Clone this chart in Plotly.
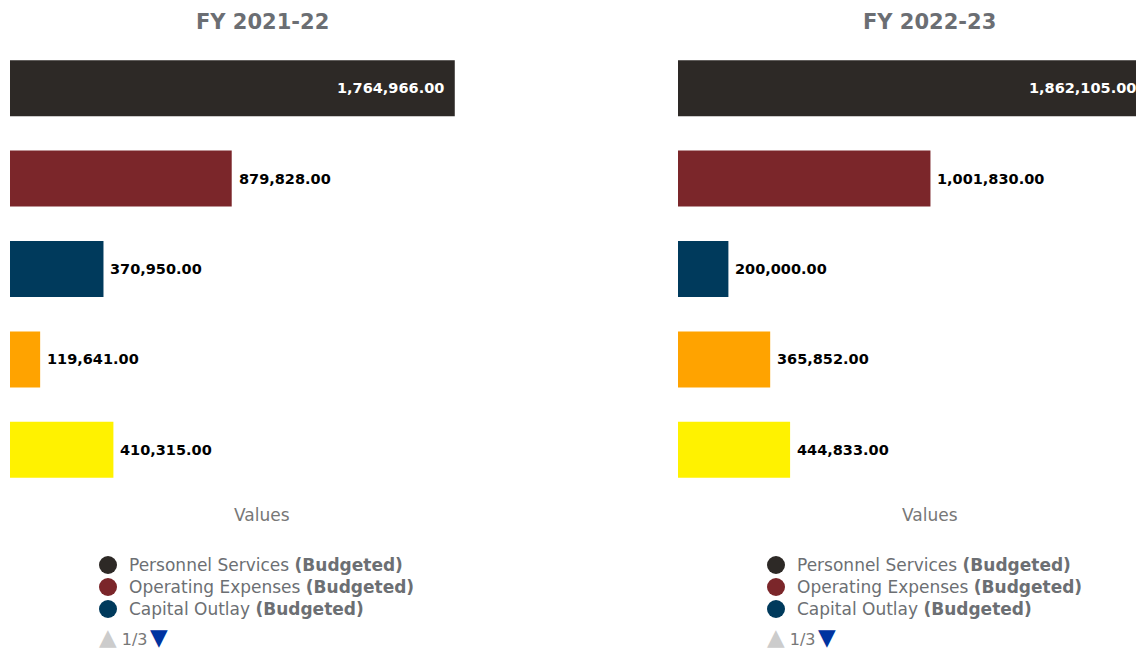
import plotly.graph_objects as go

# Budget categories and values per fiscal year
categories = ["Personnel Services", "Operating Expenses", "Capital Outlay",
              "Debt Service", "Transfers Out"]
fy_2021_22 = [1764966, 879828, 370950, 119641, 410315]
fy_2022_23 = [1862105, 1001830, 200000, 365852, 444833]
panel_titles = ["FY 2021-22", "FY 2022-23"]
colors = ["#2d2926", "#7b262a", "#003a5c", "#ffa300", "#fff200"]
legend_count = 3  # entries shown on the first legend page

FONT = "DejaVu Sans"
W, H = 1200, 650

def px_x(p):
    return p / W

def px_y(p):
    return 1 - p / H

x_domains = [[px_x(10), px_x(514)], [px_x(678), px_x(1182)]]
y_domain = [px_y(495), px_y(43)]
legend_left = [108, 776]     # centre of the legend circles, px
legend_rows = [565, 587, 609]

fig = go.Figure()
annotations = []
shapes = []

for i, (values, title) in enumerate(zip([fy_2021_22, fy_2022_23], panel_titles)):
    xa = "x" if i == 0 else "x2"
    ya = "y" if i == 0 else "y2"
    for cat, val, col in zip(categories, values, colors):
        fig.add_trace(go.Bar(
            x=[val], y=[cat], orientation="h", width=0.62, name=cat,
            marker=dict(color=col, line=dict(width=0)),
            xaxis=xa, yaxis=ya, showlegend=False, hoverinfo="x+y",
        ))
    # value labels
    vmax = max(values)
    for cat, val in zip(categories, values):
        inside = val == vmax
        annotations.append(dict(
            x=val, y=cat, xref=xa, yref=ya, showarrow=False,
            text=f"{val:,.2f}",
            xanchor="right" if inside else "left",
            xshift=-9 if inside else 5,
            font=dict(family=FONT, size=14.5, weight="bold",
                      color="#ffffff" if inside else "#000000"),
        ))
    cx = (x_domains[i][0] + x_domains[i][1]) / 2
    annotations.append(dict(
        x=cx, y=px_y(22), xref="paper", yref="paper", showarrow=False,
        text=f"<b>{title}</b>", xanchor="center", yanchor="middle",
        font=dict(family=FONT, size=21, color="#6b6e73"),
    ))
    annotations.append(dict(
        x=cx, y=px_y(515), xref="paper", yref="paper", showarrow=False,
        text="Values", xanchor="center", yanchor="middle",
        font=dict(family=FONT, size=17, color="#777777"),
    ))
    # legend: first page of entries
    lx = legend_left[i]
    for cat, col, ry in zip(categories[:legend_count], colors[:legend_count], legend_rows):
        shapes.append(dict(
            type="circle", xref="paper", yref="paper",
            xsizemode="pixel", ysizemode="pixel",
            xanchor=px_x(lx), yanchor=px_y(ry),
            x0=-9, x1=9, y0=-9, y1=9,
            fillcolor=col, line=dict(width=0),
        ))
        annotations.append(dict(
            x=px_x(lx + 19), y=px_y(ry), xref="paper", yref="paper",
            showarrow=False, xanchor="left", yanchor="middle",
            text=f"{cat} <b>(Budgeted)</b>",
            font=dict(family=FONT, size=17, color="#6c6f73"),
        ))
    # legend paging indicator
    annotations.append(dict(
        x=px_x(lx - 11), y=px_y(637), xref="paper", yref="paper", showarrow=False,
        xanchor="left", yanchor="middle",
        text=("<span style='color:#cccccc;font-size:23px'>▲</span>"
              "<span style='color:#777777'> 1/3</span>"
              "<span style='font-size:8px'> </span>"
              "<span style='color:#0033a0;font-size:23px'>▼</span>"),
        font=dict(family=FONT, size=16),
    ))

axis_common = dict(range=[0, 2000000], showgrid=False, zeroline=False,
                   showticklabels=False, ticks="", showline=False, fixedrange=True)
yaxis_common = dict(categoryorder="array", categoryarray=categories,
                    autorange="reversed", showgrid=False, zeroline=False,
                    showticklabels=False, ticks="", showline=False,
                    domain=y_domain, fixedrange=True)

fig.update_layout(
    width=W, height=H,
    margin=dict(l=0, r=0, t=0, b=0),
    paper_bgcolor="#ffffff", plot_bgcolor="#ffffff",
    barmode="overlay", showlegend=False,
    font=dict(family=FONT),
    xaxis=dict(domain=x_domains[0], anchor="y", **axis_common),
    xaxis2=dict(domain=x_domains[1], anchor="y2", **axis_common),
    yaxis=dict(anchor="x", **yaxis_common),
    yaxis2=dict(anchor="x2", **yaxis_common),
    annotations=annotations,
    shapes=shapes,
)

fig.write_html(
    "out.html",
    post_script="document.body.style.overflow='hidden';"
                "document.documentElement.style.overflow='hidden';",
)
